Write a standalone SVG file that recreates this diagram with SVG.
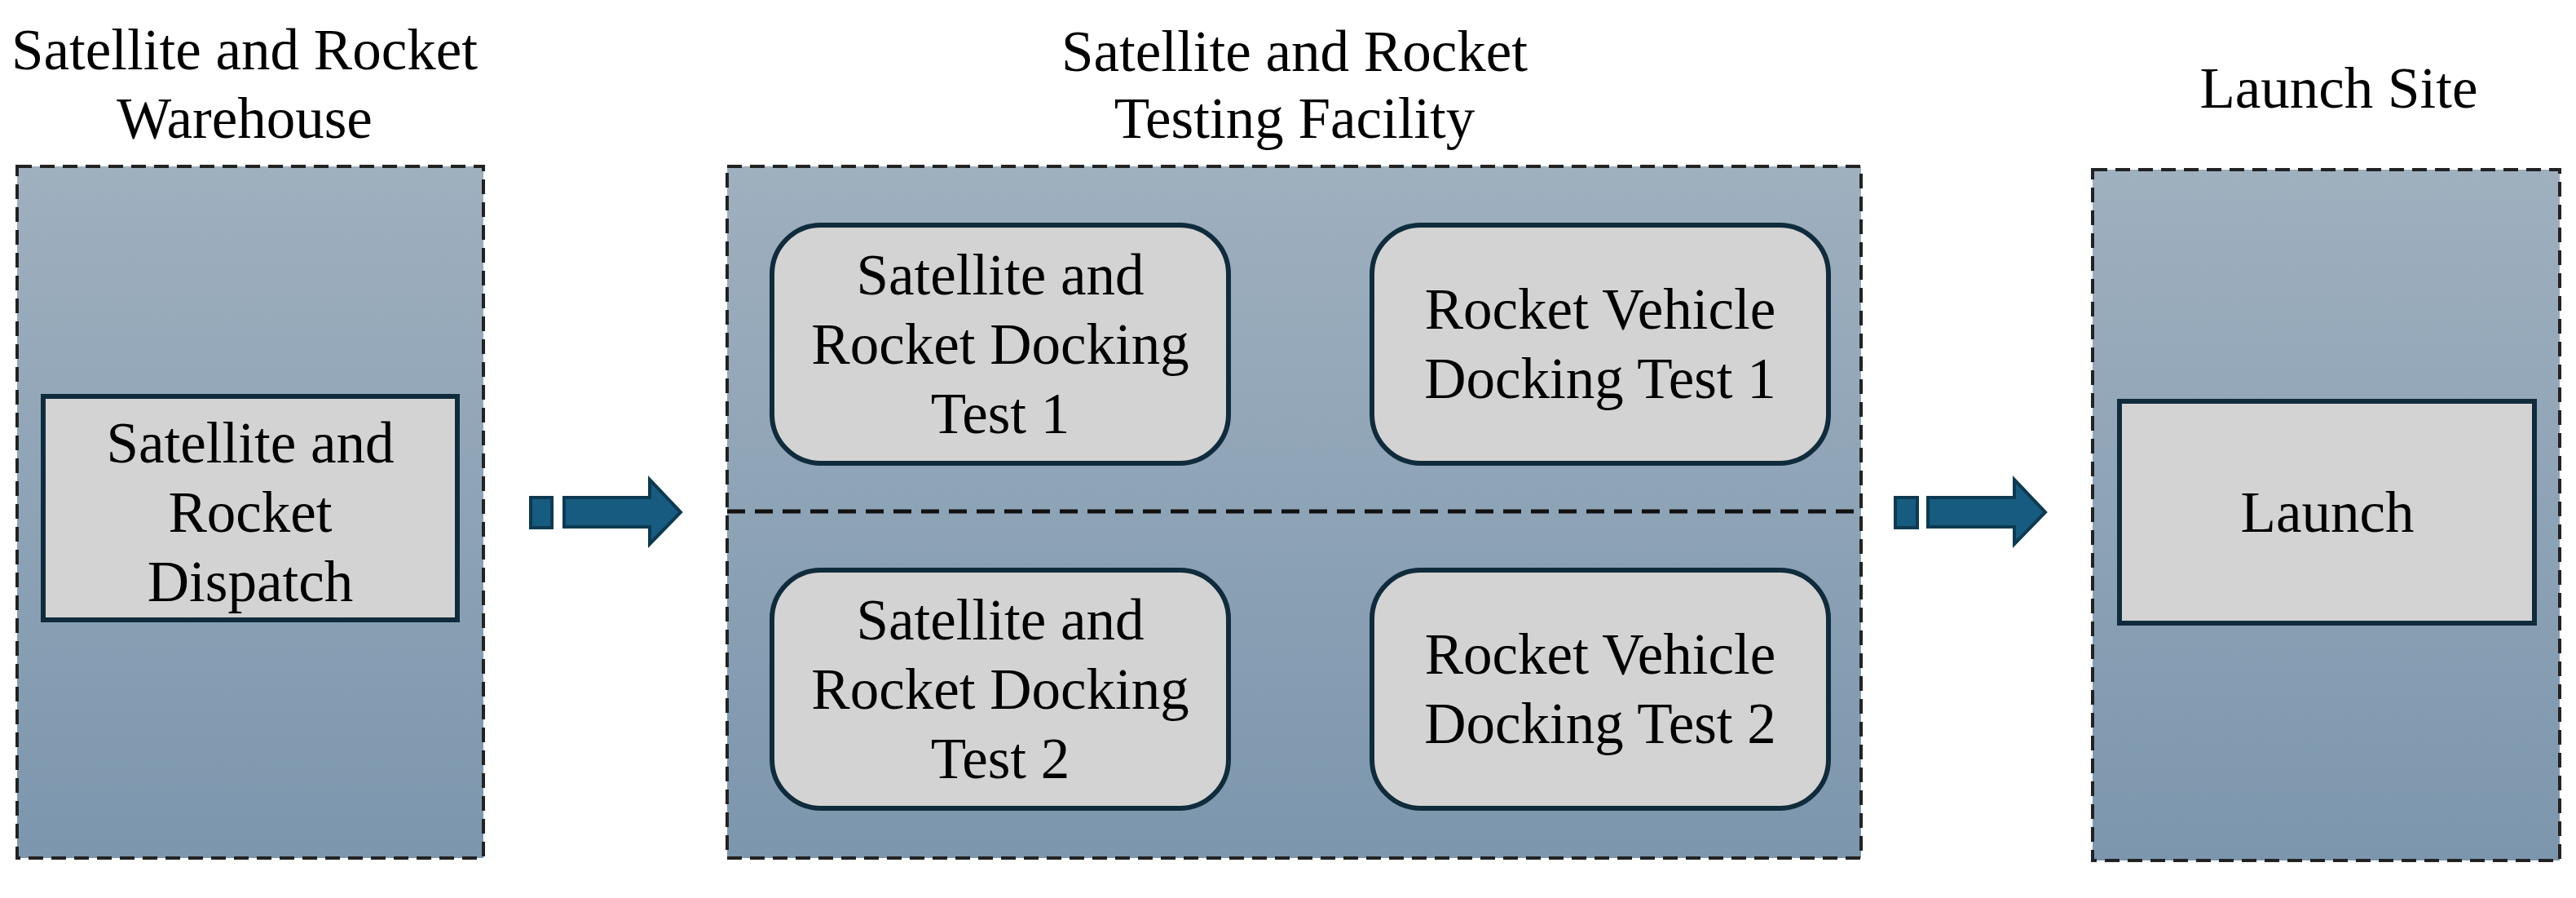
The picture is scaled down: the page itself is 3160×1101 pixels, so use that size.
<svg xmlns="http://www.w3.org/2000/svg" width="3160" height="1101" viewBox="0 0 3160 1101">
<defs>
<linearGradient id="g" x1="0" y1="0" x2="0" y2="1"><stop offset="0" stop-color="#9fb0bf"/><stop offset="1" stop-color="#7c96ad"/></linearGradient>
<style>
text{font-family:"Liberation Serif","Times New Roman",serif;font-size:71px;fill:#000;text-anchor:middle}
.zone{fill:url(#g);stroke:#222;stroke-width:4;stroke-dasharray:18 10}
.box{fill:#d3d3d3;stroke:#102c3c;stroke-width:6}
.arr{fill:#175b80;stroke:#0d3a52;stroke-width:4}
</style>
</defs>
<g id="warehouse">
<rect class="zone" x="21" y="204" width="572" height="848"/>
<text x="300" y="85">Satellite and Rocket</text>
<text x="300" y="169">Warehouse</text>
</g>
<g id="dispatch">
<rect class="box" x="53" y="486" width="508" height="274"/>
<text x="307" y="567">Satellite and</text>
<text x="307" y="652">Rocket</text>
<text x="307" y="737">Dispatch</text>
</g>
<g id="testing">
<rect class="zone" x="892" y="204" width="1391" height="848"/>
<line x1="892" y1="627" x2="2283" y2="627" stroke="#111" stroke-width="5" stroke-dasharray="22 12"/>
<text x="1588" y="87">Satellite and Rocket</text>
<text x="1588" y="169">Testing Facility</text>
</g>
<g id="srdt1">
<rect class="box" x="947" y="276" width="560" height="292" rx="60"/>
<text x="1227" y="361">Satellite and</text>
<text x="1227" y="446">Rocket Docking</text>
<text x="1227" y="531">Test 1</text>
</g>
<g id="rvdt1">
<rect class="box" x="1683" y="276" width="560" height="292" rx="60"/>
<text x="1963" y="403">Rocket Vehicle</text>
<text x="1963" y="488">Docking Test 1</text>
</g>
<g id="srdt2">
<rect class="box" x="947" y="699" width="560" height="292" rx="60"/>
<text x="1227" y="784">Satellite and</text>
<text x="1227" y="869">Rocket Docking</text>
<text x="1227" y="954">Test 2</text>
</g>
<g id="rvdt2">
<rect class="box" x="1683" y="699" width="560" height="292" rx="60"/>
<text x="1963" y="826">Rocket Vehicle</text>
<text x="1963" y="911">Docking Test 2</text>
</g>
<g id="launchsite">
<rect class="zone" x="2567" y="208" width="573" height="847"/>
<text x="2869" y="132">Launch Site</text>
</g>
<g id="launch">
<rect class="box" x="2600" y="492" width="509" height="272"/>
<text x="2855" y="652">Launch</text>
</g>
<g id="connectors">
<rect class="arr" x="651" y="610" width="26" height="37"/>
<path class="arr" d="M692 610 H797 V588 L835 628 L797 667 V646 H692 Z"/>
<rect class="arr" x="2325" y="610" width="27" height="37"/>
<path class="arr" d="M2365 610 H2471 V588 L2509 628 L2471 667 V646 H2365 Z"/>
</g>
</svg>
